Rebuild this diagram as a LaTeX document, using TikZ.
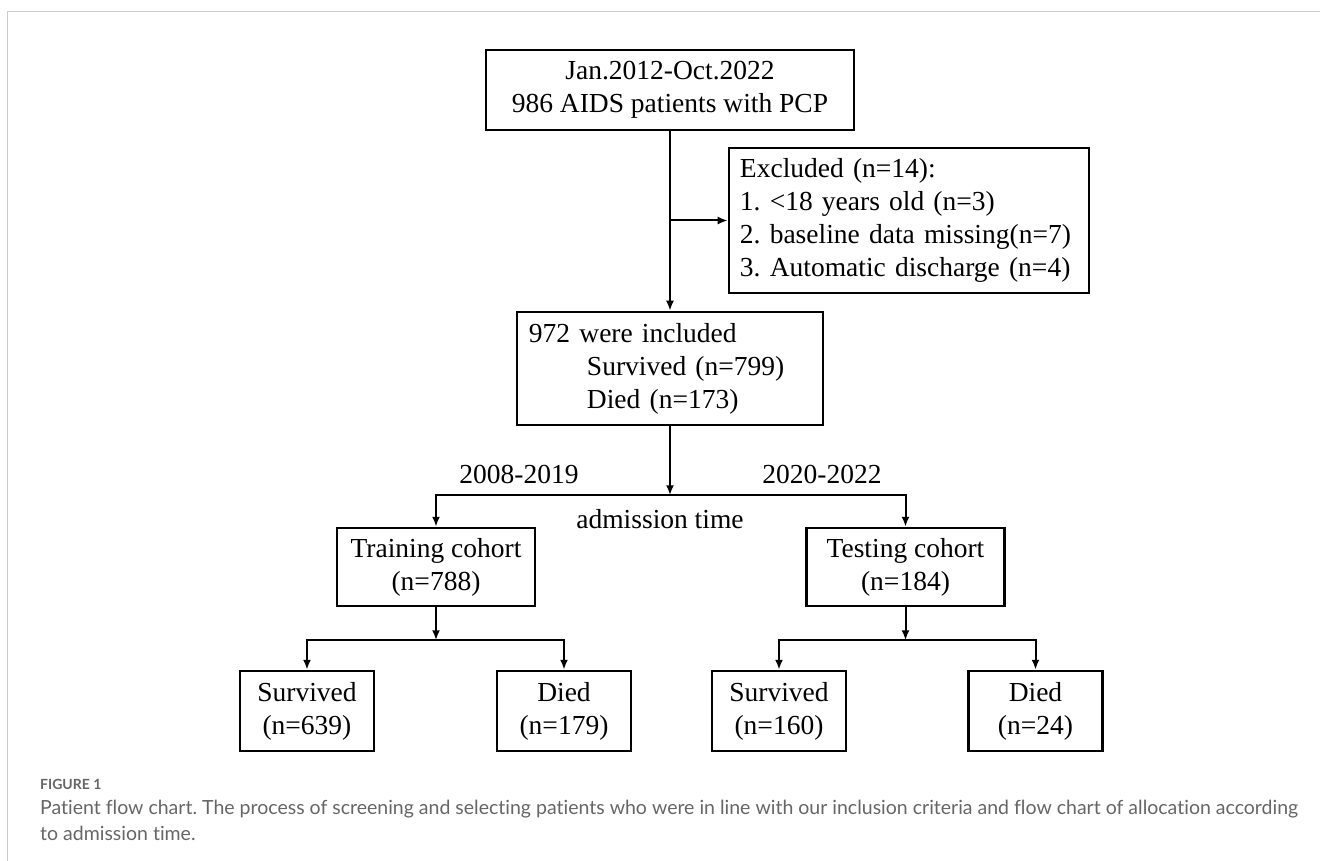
\documentclass[tikz,border=0pt]{standalone}
\usepackage{fontspec}
\setmainfont{Liberation Serif}
\newfontfamily\capfont[Ligatures=NoCommon]{Lato}
\frenchspacing
\usetikzlibrary{shapes.geometric, arrows.meta}
\definecolor{capgray}{RGB}{102,102,102}
\definecolor{framegray}{RGB}{205,205,205}
\tikzstyle{process} = [rectangle, minimum height=80pt, text centered, align=center, draw=black, line width=2.5pt, inner sep=4pt]
\tikzstyle{listbox} = [rectangle, align=left, draw=black, line width=2.5pt, inner xsep=11pt]
\tikzstyle{arrow} = [line width=2pt,->,>={Latex[length=10pt,width=8pt]}]
\tikzstyle{caption} = [anchor=west, align=left, inner sep=0pt, text=capgray]
\begin{document}
\begin{tikzpicture}[x=1pt, y=1pt, node distance=100pt, font=\fontsize{27.5}{33}\selectfont]
    \useasboundingbox (-670,90) rectangle (650,-771);
    % Frame
    \draw [framegray, line width=1pt] (-662,-771) -- (-662,78) -- (650,78);

    % Nodes
    \node (start) [process, minimum width=368pt] at (0,0) {Jan.2012-Oct.2022\\986 AIDS patients with PCP};
    \node (excl) [listbox, text width=338pt, minimum height=145pt, right of=start, xshift=139pt, yshift=-130.5pt] {Excluded (n=14):\\1. <18 years old (n=3)\\2. baseline data missing(n=7)\\3. Automatic discharge (n=4)};
    \node (incl) [listbox, text width=282pt, inner xsep=12pt, minimum height=113pt, node distance=278.5pt, below of=start] {972 were included\\\hspace*{58pt}Survived (n=799)\\\hspace*{58pt}Died (n=173)};

    % Cohorts
    \node (train) [process, minimum width=198pt, minimum height=78pt, node distance=198.5pt, below of=incl, xshift=-234pt] {Training cohort\\(n=788)};
    \node (test) [process, minimum width=198pt, minimum height=78pt, node distance=198.5pt, below of=incl, xshift=235.5pt] {Testing cohort\\(n=184)};

    % Outcomes
    \node (trainsurv) [process, minimum width=134pt, node distance=144pt, below of=train, xshift=-129pt] {Survived\\(n=639)};
    \node (traindied) [process, minimum width=134pt, node distance=144pt, below of=train, xshift=128pt] {Died\\(n=179)};
    \node (testsurv) [process, minimum width=134pt, node distance=144pt, below of=test, xshift=-126.5pt] {Survived\\(n=160)};
    \node (testdied) [process, minimum width=134pt, node distance=144pt, below of=test, xshift=130pt] {Died\\(n=24)};

    % Split points
    \coordinate (excljoin) at (start.south |- excl.west);
    \coordinate (cohortsplit) at ([yshift=-69pt]incl.south);
    \coordinate (trainsplit) at ([yshift=-33pt]train.south);
    \coordinate (testsplit) at ([yshift=-33pt]test.south);

    % Labels
    \node (lbltrain) [node distance=21pt, above of=cohortsplit, xshift=-151pt] {2008-2019};
    \node (lbltest) [node distance=21pt, above of=cohortsplit, xshift=152pt] {2020-2022};
    \node (lbltime) [node distance=24pt, below of=cohortsplit, xshift=-10pt] {admission time};

    % Arrows
    \draw [arrow] (start) -- (incl);
    \draw [arrow] (excljoin) -- (excl);
    \draw [arrow] (incl) -- (cohortsplit);
    \draw [arrow] (cohortsplit) -| (train);
    \draw [arrow] (cohortsplit) -| (test);
    \draw [arrow] (train) -- (trainsplit);
    \draw [arrow] (trainsplit) -| (trainsurv);
    \draw [arrow] (trainsplit) -| (traindied);
    \draw [arrow] (test) -- (testsplit);
    \draw [arrow] (testsplit) -| (testsurv);
    \draw [arrow] (testsplit) -| (testdied);

    % Caption
    \node (figlabel) [caption, font=\capfont\bfseries\fontsize{14}{17}\selectfont] at (-630,-694) {FIGURE 1};
    \node (figtext) [caption, anchor=north west, font=\capfont\fontsize{19.5}{26}\selectfont] at (-630,-710) {Patient flow chart. The process of screening and selecting patients who were in line with our inclusion criteria and flow chart of allocation according\\to admission time.};
\end{tikzpicture}
\end{document}
